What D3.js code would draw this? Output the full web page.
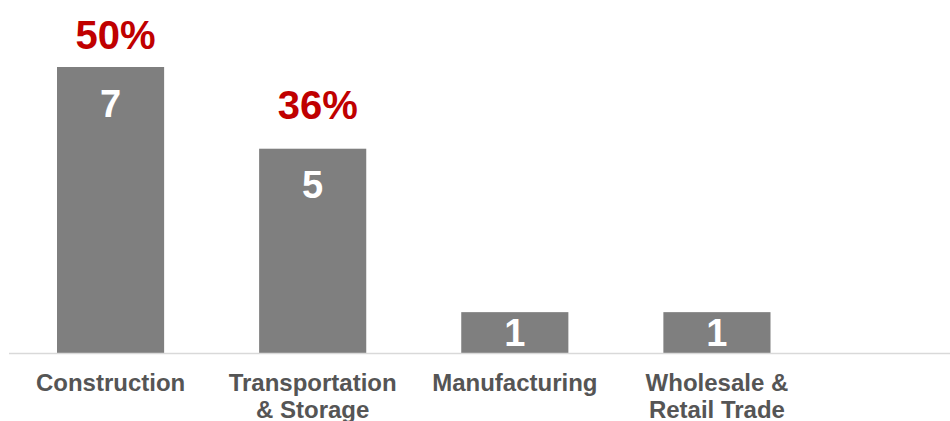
<!DOCTYPE html>
<html>
<head>
<meta charset="utf-8">
<script src="https://cdn.jsdelivr.net/npm/d3@7"></script>
<style>
  html, body { margin: 0; padding: 0; background: #ffffff; }
  svg { display: block; font-family: "Liberation Sans", Arial, sans-serif; }
</style>
</head>
<body>
<svg id="chart" width="950" height="421"></svg>
<script>
// ---- data ----
const categories = ["Construction", "Transportation\n& Storage", "Manufacturing", "Wholesale &\nRetail Trade"];
const counts = [7, 5, 1, 1];
const shareLabels = ["50%", "36%", null, null];
const shareAnchor = [7.45, 5.72, null, null]; // hidden label series level (value units)

// ---- layout ----
const W = 950, H = 421;
const svg = d3.select("#chart");

const x = d3.scaleBand()
  .domain(categories)
  .range([9.5, 818])
  .paddingInner(0.47)
  .paddingOuter(0.235);

const y = d3.scaleLinear()
  .domain([0, 7])
  .range([353, 67]);

// bars
svg.append("g").selectAll("rect")
  .data(categories)
  .join("rect")
  .attr("x", d => x(d))
  .attr("y", (d, i) => y(counts[i]))
  .attr("width", x.bandwidth())
  .attr("height", (d, i) => y(0) - y(counts[i]))
  .attr("fill", "#7f7f7f");

// baseline axis
svg.append("line")
  .attr("x1", 9).attr("x2", W)
  .attr("y1", y(0) + 0.5).attr("y2", y(0) + 0.5)
  .attr("stroke", "#d9d9d9")
  .attr("stroke-width", 1.5);

// value labels inside bars
svg.append("g").selectAll("text")
  .data(categories)
  .join("text")
  .attr("x", d => x(d) + x.bandwidth() / 2)
  .attr("y", (d, i) => {
    const top = y(counts[i]);
    const mid = (top + y(0)) / 2;
    return Math.min(top + 36, mid);
  })
  .attr("dy", "0.36em")
  .attr("text-anchor", "middle")
  .attr("fill", "#ffffff")
  .attr("font-weight", "bold")
  .attr("font-size", 38)
  .text((d, i) => counts[i]);

// share labels above bars
svg.append("g").selectAll("text")
  .data(categories.filter((d, i) => shareLabels[i] !== null))
  .join("text")
  .attr("x", d => x(d) + x.bandwidth() / 2 + 5)
  .attr("y", d => y(shareAnchor[categories.indexOf(d)]))
  .attr("text-anchor", "middle")
  .attr("fill", "#c00000")
  .attr("font-weight", "bold")
  .attr("font-size", 40)
  .text(d => shareLabels[categories.indexOf(d)]);

// category labels
const cat = svg.append("g").selectAll("text")
  .data(categories)
  .join("text")
  .attr("x", d => x(d) + x.bandwidth() / 2)
  .attr("y", 391)
  .attr("text-anchor", "middle")
  .attr("fill", "#555555")
  .attr("font-weight", "bold")
  .attr("font-size", 24);

cat.each(function(d) {
  const lines = d.split("\n");
  const t = d3.select(this);
  lines.forEach((ln, k) => {
    t.append("tspan")
      .attr("x", x(d) + x.bandwidth() / 2)
      .attr("dy", k === 0 ? 0 : 27)
      .text(ln);
  });
});
</script>
</body>
</html>
